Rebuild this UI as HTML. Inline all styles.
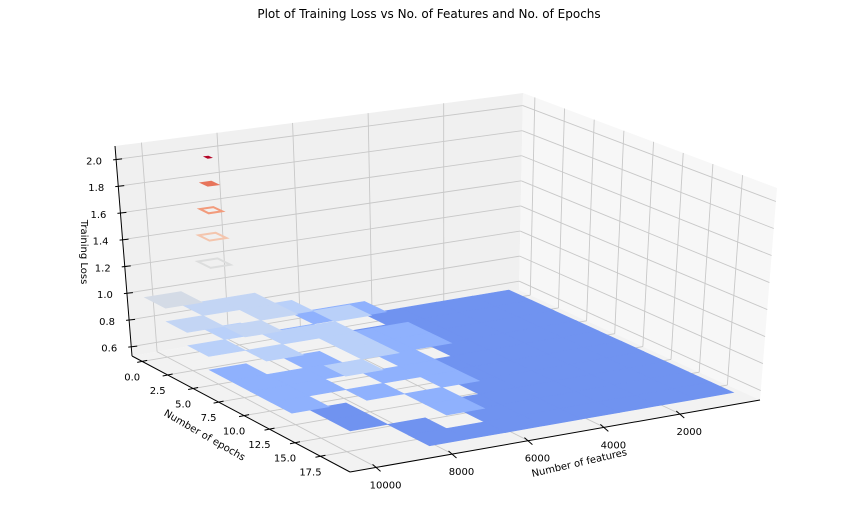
<!DOCTYPE html>
<html><head><meta charset="utf-8">
<style>
html,body{margin:0;padding:0;background:#fff;}
svg{display:block;font-family:"DejaVu Sans","Liberation Sans",sans-serif;}
</style></head>
<body>
<svg id="chart" width="858" height="510" viewBox="0 0 858 510">
<text x="429" y="18" text-anchor="middle" font-size="12" fill="#000">Plot of Training Loss vs No. of Features and No. of Epochs</text>
<g id="panes"></g>
<g id="grid"></g>
<g id="surface"></g>
<g id="axes"></g>
<text x="0" y="0" transform="translate(81,252) rotate(90)" text-anchor="middle" font-size="10">Training Loss</text>
<text x="0" y="0" transform="translate(203,438) rotate(30)" text-anchor="middle" font-size="10">Number of epochs</text>
<text x="0" y="0" transform="translate(580,466) rotate(-13)" text-anchor="middle" font-size="10">Number of features</text>
</svg>
<script>
// ---- data ----
const featureCols = [1000,2000,3000,4000,5000,6000,7000,8000,9000,10000];
const epochRows = [1,3,5,7,9,11,13,15,17,19];
const lossRow1  = [.65,.65,.65,.65,.70,.72,.85,.90,.95,1.0];
const lossRow3  = [.65,.65,.65,.66,.68,.80,.75,.90,.85,.95];
const lossRow5  = [.65,.65,.65,.65,.72,.75,.85,.80,.90,.80];
const lossRow7  = [.65,.65,.65,.65,.70,.72,.80,.70,.85,.75];
const lossRow9  = [.65,.65,.65,.65,.68,.75,.80,.72,.78,.70];
const lossRow11 = [.65,.65,.65,.65,.66,.72,.70,.80,.70,.75];
const lossRow13 = [.65,.65,.65,.65,.65,.70,.58,.72,.68,.70];
const lossRow15 = [.65,.65,.65,.65,.65,.66,.70,.58,.66,.58];
const lossRow17 = [.65,.65,.65,.65,.65,.65,.70,.66,.58,.55];
const lossRow19 = [.65,.65,.65,.65,.65,.65,.66,.68,.55,.52];
const lossGrid = [lossRow1,lossRow3,lossRow5,lossRow7,lossRow9,lossRow11,lossRow13,lossRow15,lossRow17,lossRow19];
const spikeFeature = 8700;
const spikeEpoch = 0.5;
const spikeLevels = [1.2,1.4,1.6,1.8,2.0];
const epochTicks = [0,2.5,5,7.5,10,12.5,15,17.5];
const epochTickLabels = ["0.0","2.5","5.0","7.5","10.0","12.5","15.0","17.5"];
const featureTicks = [2000,4000,6000,8000,10000];
const featureTickLabels = ["2000","4000","6000","8000","10000"];
const zTicks = [0.6,0.8,1.0,1.2,1.4,1.6,1.8,2.0];
const zTickLabels = ["0.6","0.8","1.0","1.2","1.4","1.6","1.8","2.0"];

// ---- projection (trilinear over box corners) ----
const F0=-100,F1=10700,E0=-1,E1=20.4,Z0=0.53,Z1=2.1;
const A=[132,356],B=[519,290],C=[760,400],D=[350,472];
const At=[115,146],Bt=[523,93],Ct=[777,188],Dt=[350,261];
function lerp(p,q,t){return [p[0]+(q[0]-p[0])*t,p[1]+(q[1]-p[1])*t];}
function proj(f,e,z){
  const u=(f-F0)/(F1-F0);
  const v=(e-E0)/(E1-E0);
  const w=(z-Z0)/(Z1-Z0);
  const bot=lerp(lerp(B,A,u),lerp(C,D,u),v);
  const top=lerp(lerp(Bt,At,u),lerp(Ct,Dt,u),v);
  return lerp(bot,top,w);
}
const NS="http://www.w3.org/2000/svg";
function el(tag,attrs,parent){const n=document.createElementNS(NS,tag);for(const k in attrs)n.setAttribute(k,attrs[k]);parent.appendChild(n);return n;}
function pts(a){return a.map(p=>p[0].toFixed(1)+","+p[1].toFixed(1)).join(" ");}
const panes=document.getElementById('panes'),grid=document.getElementById('grid'),surf=document.getElementById('surface'),axes=document.getElementById('axes');

// panes
let p;
p=el('polygon',{points:pts([proj(F1,E0,Z0),proj(F0,E0,Z0),proj(F0,E0,Z1),proj(F1,E0,Z1)]),fill:'#f0f0f0'},panes);


p=el('polygon',{points:pts([proj(F0,E0,Z0),proj(F0,E1,Z0),proj(F0,E1,Z1),proj(F0,E0,Z1)]),fill:'#f7f7f7'},panes);


p=el('polygon',{points:pts([proj(F1,E0,Z0),proj(F0,E0,Z0),proj(F0,E1,Z0),proj(F1,E1,Z0)]),fill:'#f2f2f2'},panes);



function line(a,b,stroke,sw,parent,name){
  const l=el('line',{x1:a[0],y1:a[1],x2:b[0],y2:b[1],stroke:stroke,'stroke-width':sw},parent);
  
  
  return l;
}
// gridlines
featureTicks.forEach(f=>{
  line(proj(f,E0,Z0),proj(f,E0,Z1),'#c8c8c8',0.9,grid,'feature-gridline');
  line(proj(f,E0,Z0),proj(f,E1,Z0),'#c8c8c8',0.9,grid,'feature-floor-gridline');
});
epochTicks.forEach(e=>{
  line(proj(F0,e,Z0),proj(F0,e,Z1),'#c8c8c8',0.9,grid,'epoch-gridline');
  line(proj(F0,e,Z0),proj(F1,e,Z0),'#c8c8c8',0.9,grid,'epoch-floor-gridline');
});
zTicks.forEach(z=>{
  line(proj(F1,E0,z),proj(F0,E0,z),'#c8c8c8',0.9,grid,'z-gridline-left');
  line(proj(F0,E0,z),proj(F0,E1,z),'#c8c8c8',0.9,grid,'z-gridline-right');
});

// surface
const levelColors={0.6:'#7093f0',0.7:'#8fb1fd',0.8:'#b9d0f9',0.9:'#c3d5f4',1.0:'#d4dbe6'};
const cells=[];
epochRows.forEach((e,i)=>featureCols.forEach((f,j)=>{
  const v=lossGrid[i][j];
  if(v<0.6)return;
  const lvl=Math.min(1.0,Math.floor(v*10+1e-6)/10);
  cells.push({f,e,lvl});
}));
cells.sort((a,b)=>a.lvl-b.lvl||((a.f+a.e*500)-(b.f+b.e*500)));
cells.forEach(c=>{
  const q=el('polygon',{points:pts([proj(c.f-500,c.e-1,c.lvl),proj(c.f+500,c.e-1,c.lvl),proj(c.f+500,c.e+1,c.lvl),proj(c.f-500,c.e+1,c.lvl)]),fill:levelColors[c.lvl],stroke:levelColors[c.lvl],'stroke-width':0.6},surf);
  
  
});
const spikeColors=['#dcdddd','#f4c5ad','#f29b7c','#e7745b','#b40426'];
const ringDf=[270,230,180,120,25], ringDe=[0.6,0.5,0.4,0.25,0.06];
spikeLevels.forEach((z,k)=>{
  const df=ringDf[k],de=ringDe[k];
  const r=el('polygon',{points:pts([proj(spikeFeature-df,spikeEpoch-de,z),proj(spikeFeature+df,spikeEpoch-de,z),proj(spikeFeature+df,spikeEpoch+de,z),proj(spikeFeature-df,spikeEpoch+de,z)]),fill:k>=3?spikeColors[k]:'none',stroke:spikeColors[k],'stroke-width':2},surf);
  
  
});

// axes lines, ticks, labels
function label(x,y,txt,anchor,name){
  const t=el('text',{x:x,y:y,'font-size':10,'text-anchor':anchor,fill:'#000'},axes);
  t.textContent=txt;
  
  
}
line(proj(F1,E0,Z0),proj(F1,E0,Z1),'#000',1,axes,'z-axis-line');
line(proj(F1,E0,Z0),proj(F1,E1,Z0),'#000',1,axes,'epochs-axis-line');
line(proj(F1,E1,Z0),proj(F0,E1,Z0),'#000',1,axes,'features-axis-line');
zTicks.forEach((z,i)=>{
  const a=proj(F1,E0,z);
  line([a[0]-3,a[1]+0.5],[a[0]+6,a[1]-0.5],'#000',1,axes,'z-tick');
  label(a[0]-22,a[1]+5,zTickLabels[i],'middle','z-tick-label');
});
epochTicks.forEach((e,i)=>{
  const a=proj(F1,e,Z0);
  line([a[0]-5,a[1]+1],[a[0]+5,a[1]-1],'#000',1,axes,'epoch-tick');
  label(a[0]-10,a[1]+19,epochTickLabels[i],'middle','epoch-tick-label');
});
featureTicks.forEach((f,i)=>{
  const a=proj(f,E1,Z0);
  line([a[0]-4,a[1]-3],[a[0]+4,a[1]+4],'#000',1,axes,'feature-tick');
  label(a[0]+9,a[1]+21,featureTickLabels[i],'middle','feature-tick-label');
});
</script>
</body></html>
